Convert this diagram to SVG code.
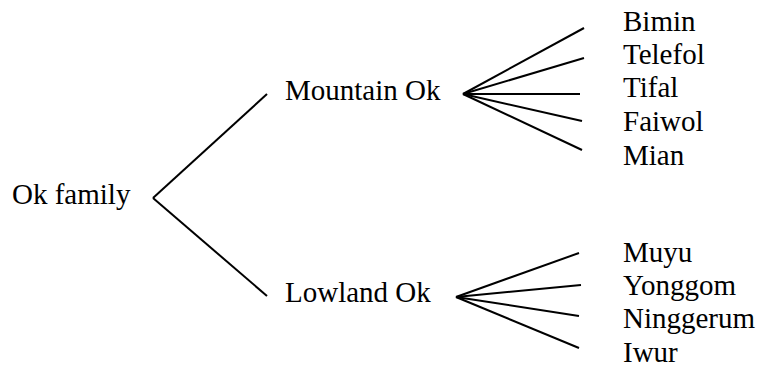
<svg xmlns="http://www.w3.org/2000/svg" width="758" height="367" viewBox="0 0 758 367">
<defs>
<style>
.t{font-family:"Liberation Serif","Times New Roman",serif;font-size:29px;fill:#000}
</style>
</defs>
<rect width="758" height="367" fill="#fff"/>
<g id="connectors" stroke="#000" stroke-width="2" fill="none">
<line x1="153" y1="198" x2="267" y2="94"/>
<line x1="153" y1="198" x2="267" y2="296"/>
<line x1="463" y1="94" x2="584" y2="28"/>
<line x1="463" y1="94" x2="584" y2="58"/>
<line x1="463" y1="94" x2="580" y2="94"/>
<line x1="463" y1="94" x2="582" y2="121"/>
<line x1="463" y1="94" x2="582" y2="150"/>
<line x1="456" y1="297" x2="579" y2="253"/>
<line x1="456" y1="297" x2="581" y2="285"/>
<line x1="456" y1="297" x2="579" y2="316"/>
<line x1="456" y1="297" x2="579" y2="348"/>
</g>
<g id="ok-family"><text class="t" x="12" y="204"><tspan style="font-family:'Liberation Serif',serif">Ok family</tspan></text></g>
<g id="mountain-ok"><text class="t" x="285" y="100"><tspan style="font-family:'Liberation Serif',serif">Mountain Ok</tspan></text></g>
<g id="lowland-ok"><text class="t" x="285" y="302"><tspan style="font-family:'Liberation Serif',serif">Lowland Ok</tspan></text></g>
<g id="bimin"><text class="t" x="623" y="31"><tspan style="font-family:'Liberation Serif',serif">Bimin</tspan></text></g>
<g id="telefol"><text class="t" x="623" y="64"><tspan style="font-family:'Liberation Serif',serif">Telefol</tspan></text></g>
<g id="tifal"><text class="t" x="623" y="97"><tspan style="font-family:'Liberation Serif',serif">Tifal</tspan></text></g>
<g id="faiwol"><text class="t" x="623" y="131"><tspan style="font-family:'Liberation Serif',serif">Faiwol</tspan></text></g>
<g id="mian"><text class="t" x="623" y="165"><tspan style="font-family:'Liberation Serif',serif">Mian</tspan></text></g>
<g id="muyu"><text class="t" x="623" y="262"><tspan style="font-family:'Liberation Serif',serif">Muyu</tspan></text></g>
<g id="yonggom"><text class="t" x="623" y="295"><tspan style="font-family:'Liberation Serif',serif">Yonggom</tspan></text></g>
<g id="ninggerum"><text class="t" x="623" y="328"><tspan style="font-family:'Liberation Serif',serif">Ninggerum</tspan></text></g>
<g id="iwur"><text class="t" x="623" y="362"><tspan style="font-family:'Liberation Serif',serif">Iwur</tspan></text></g>
</svg>
